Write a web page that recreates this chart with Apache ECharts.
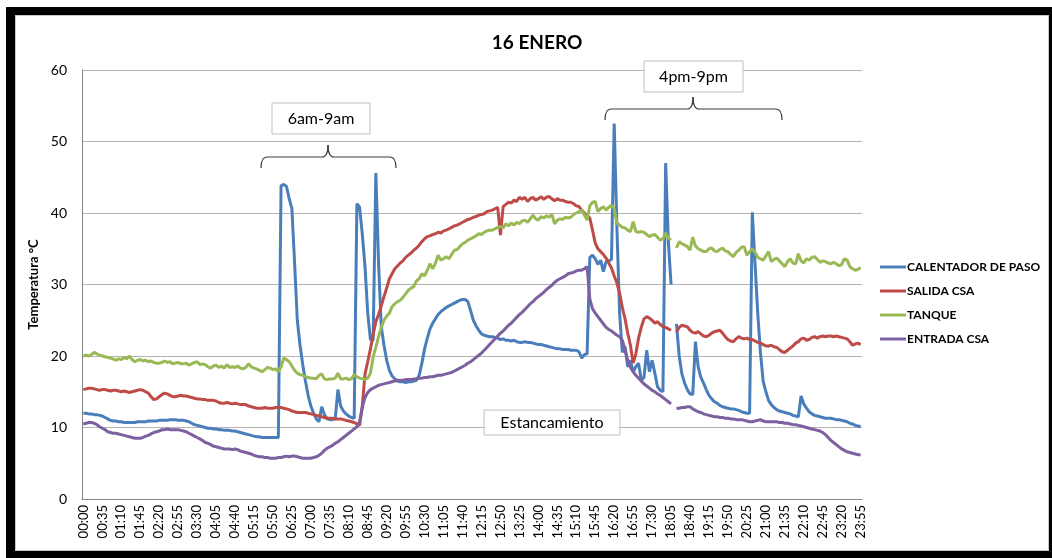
<!DOCTYPE html>
<html>
<head>
<meta charset="utf-8">
<title>16 ENERO</title>
<script src="https://cdn.jsdelivr.net/npm/echarts@6/dist/echarts.min.js"></script>
<style>
  html, body { margin: 0; padding: 0; background: #ffffff; }
  #wrap { position: relative; width: 1052px; height: 558px; overflow: hidden; }
  #frame { position: absolute; left: 6px; top: 7px; width: 1046px; height: 551px; background: #000; }
  #paper { position: absolute; left: 15px; top: 15px; width: 1032px; height: 534px; background: #fff; border: 1px solid #c8c8c8; }
  #chart { position: absolute; left: 0; top: 0; width: 1052px; height: 558px; }
</style>
</head>
<body>
<div id="wrap">
  <div id="frame"></div>
  <div id="paper"></div>
  <div id="chart"></div>
</div>
<script>
// Readings every 5 minutes, 00:00 .. 23:55 (288 samples per series)
const times = [];
for (let m = 0; m < 24 * 60; m += 5) {
  const hh = String(Math.floor(m / 60)).padStart(2, '0');
  const mm = String(m % 60).padStart(2, '0');
  times.push(hh + ':' + mm);
}

const seriesNames = ['CALENTADOR DE PASO', 'SALIDA CSA', 'TANQUE', 'ENTRADA CSA'];

// CALENTADOR DE PASO (°C), one row per hour
const calentador = [
  12.0, 12.0, 11.9, 11.9, 11.8, 11.8, 11.7, 11.6, 11.4, 11.2, 11.0, 10.9,
  10.9, 10.8, 10.8, 10.7, 10.7, 10.7, 10.7, 10.7, 10.8, 10.8, 10.8, 10.8,
  10.9, 10.9, 10.9, 10.9, 11.0, 11.0, 11.0, 11.0, 11.1, 11.1, 11.1, 11.0,
  11.0, 11.0, 10.9, 10.8, 10.6, 10.4, 10.3, 10.2, 10.1, 10.0, 9.9, 9.9,
  9.8, 9.8, 9.7, 9.7, 9.6, 9.6, 9.6, 9.5, 9.5, 9.4, 9.3, 9.2,
  9.1, 9.0, 8.9, 8.8, 8.7, 8.7, 8.6, 8.6, 8.6, 8.6, 8.6, 8.6,
  8.6, 43.8, 44.0, 43.7, 42.0, 40.6, 33.0, 25.0, 21.5, 18.8, 16.5, 14.5,
  13.0, 12.0, 11.2, 10.8, 12.9, 11.8, 11.2, 11.1, 11.1, 11.2, 15.3, 13.0,
  12.3, 11.9, 11.6, 11.4, 11.3, 41.3, 40.8, 37.0, 32.5, 26.0, 22.3, 22.2,
  45.6, 33.0, 24.1, 21.5, 19.4, 18.0, 17.2, 16.8, 16.5, 16.4, 16.4, 16.3,
  16.4, 16.4, 16.5, 16.6, 17.3, 19.0, 21.0, 22.5, 23.8, 24.6, 25.2, 25.8,
  26.2, 26.5, 26.8, 27.0, 27.2, 27.4, 27.6, 27.8, 27.9, 27.9, 27.6, 26.3,
  25.0, 24.2, 23.6, 23.1, 22.9, 22.8, 22.7, 22.7, 22.6, 22.5, 22.3, 22.4,
  22.2, 22.2, 22.1, 22.2, 22.0, 21.9, 21.9, 22.0, 21.9, 21.9, 21.8, 21.7,
  21.6, 21.6, 21.5, 21.4, 21.3, 21.2, 21.1, 21.0, 21.0, 20.9, 20.9, 20.9,
  20.8, 20.8, 20.8, 20.6, 19.7, 20.2, 20.3, 33.8, 34.1, 33.6, 32.8, 33.4,
  31.8, 33.2, 33.3, 33.5, 52.5, 38.0, 26.0, 20.5, 21.3, 18.5, 19.4, 17.8,
  18.5, 19.0, 16.6, 17.0, 20.8, 17.8, 19.4, 17.6, 15.7, 15.2, 15.0, 47.0,
  36.0, 30.0, null, 24.5, 20.0, 17.5, 16.2, 15.3, 14.7, 14.6, 22.0, 18.5,
  17.0, 16.2, 15.3, 14.5, 14.0, 13.6, 13.4, 13.1, 12.9, 12.8, 12.7, 12.6,
  12.6, 12.5, 12.4, 12.2, 12.1, 12.0, 12.0, 40.1, 33.0, 26.0, 20.5, 16.5,
  15.0, 13.8, 13.2, 12.8, 12.5, 12.3, 12.2, 12.1, 12.0, 11.9, 11.7, 11.6,
  11.5, 14.4, 13.3, 12.7, 12.2, 11.9, 11.7, 11.6, 11.5, 11.4, 11.3, 11.3,
  11.3, 11.2, 11.1, 11.1, 11.0, 10.9, 10.8, 10.6, 10.5, 10.3, 10.2, 10.1
];

// SALIDA CSA (°C)
const salidaCSA = [
  15.3, 15.4, 15.5, 15.5, 15.4, 15.3, 15.2, 15.3, 15.3, 15.2, 15.1, 15.2,
  15.2, 15.1, 15.0, 15.1, 15.0, 14.9, 15.0, 15.1, 15.2, 15.3, 15.2, 15.0,
  14.8, 14.3, 13.9, 14.0, 14.3, 14.6, 14.8, 14.7, 14.5, 14.3, 14.3, 14.4,
  14.5, 14.4, 14.4, 14.3, 14.2, 14.1, 14.0, 14.0, 13.9, 13.9, 13.8, 13.8,
  13.8, 13.7, 13.5, 13.4, 13.4, 13.5, 13.4, 13.3, 13.4, 13.3, 13.2, 13.2,
  13.2, 13.0, 12.9, 12.8, 12.7, 12.7, 12.7, 12.8, 12.7, 12.7, 12.7, 12.8,
  12.8, 12.8, 12.7, 12.6, 12.5, 12.3, 12.2, 12.1, 12.1, 12.1, 12.1, 12.0,
  11.9, 11.8, 11.7, 11.6, 11.5, 11.4, 11.3, 11.3, 11.3, 11.2, 11.2, 11.2,
  11.1, 11.0, 10.9, 10.8, 10.7, 10.5, 10.3, 13.0, 17.5, 19.2, 21.0, 23.0,
  24.8, 25.8, 27.0, 28.3, 29.5, 30.8, 31.5, 32.2, 32.6, 33.0, 33.3, 33.8,
  34.1, 34.4, 34.8, 35.1, 35.5, 36.0, 36.4, 36.7, 36.8, 37.0, 37.1, 37.3,
  37.2, 37.5, 37.6, 37.8, 38.0, 38.2, 38.3, 38.5, 38.7, 38.9, 39.1, 39.2,
  39.4, 39.5, 39.7, 39.8, 39.9, 40.2, 40.3, 40.4, 40.6, 40.8, 36.9, 40.9,
  41.2, 41.5, 41.4, 41.8, 41.6, 42.2, 41.9, 42.2, 41.6, 42.0, 42.2, 41.8,
  42.0, 42.3, 41.9, 42.2, 42.3, 42.0, 41.7, 42.0, 41.8, 41.8, 41.6, 41.5,
  41.5, 41.3, 41.0, 40.9, 40.4, 40.0, 39.6, 39.3, 37.6, 35.8, 35.0, 34.6,
  34.2, 33.7, 33.0, 32.3, 31.2, 30.2, 28.8, 26.8, 25.2, 23.2, 21.5, 19.0,
  20.3, 22.5, 24.0, 25.2, 25.5, 25.3, 25.0, 24.6, 24.8, 24.4, 24.1, 24.0,
  23.8, 23.6, null, 23.3, 24.0, 24.3, 24.2, 24.1, 23.6, 23.3, 23.2, 23.4,
  23.1, 22.8, 22.7, 22.9, 23.2, 23.4, 23.5, 23.6, 23.2, 22.7, 22.3, 22.1,
  22.0, 22.4, 22.7, 22.5, 22.4, 22.5, 22.3, 22.3, 22.1, 21.9, 21.8, 21.6,
  21.4, 21.4, 21.5, 21.3, 21.2, 20.9, 20.6, 20.5, 20.8, 21.1, 21.4, 21.8,
  22.0, 22.4, 22.5, 22.2, 22.3, 22.6, 22.7, 22.5, 22.7, 22.8, 22.7, 22.8,
  22.8, 22.7, 22.8, 22.7, 22.6, 22.5, 22.4, 22.0, 21.5, 21.7, 21.8, 21.6
];

// TANQUE (°C)
const tanque = [
  20.0, 20.1, 20.0, 20.2, 20.5, 20.3, 20.1, 20.0, 19.9, 19.8, 19.7, 19.6,
  19.4, 19.6, 19.5, 19.8, 19.6, 20.0, 19.5, 19.2, 19.4, 19.5, 19.3, 19.4,
  19.2, 19.3, 19.1, 19.0, 19.0, 19.1, 19.3, 19.1, 19.2, 18.9, 19.0, 19.1,
  18.9, 18.9, 19.0, 18.7, 18.9, 19.1, 19.2, 18.8, 18.9, 18.8, 18.5, 18.3,
  18.6, 18.7, 18.4, 18.6, 18.3, 18.8, 18.4, 18.5, 18.4, 18.6, 18.3, 18.2,
  18.4, 18.9, 18.5, 18.3, 18.2, 18.0, 17.8, 18.1, 18.4, 18.3, 18.1, 18.2,
  17.8, 18.5, 19.7, 19.5, 19.2, 18.6, 18.0, 17.6, 17.4, 17.3, 17.1, 17.0,
  16.9, 16.9, 16.8, 17.3, 17.5, 16.8, 16.7, 16.8, 16.8, 16.9, 17.6, 16.8,
  16.8, 16.9, 16.7, 16.8, 17.4, 17.1, 16.9, 16.8, 16.7, 16.9, 17.6, 19.9,
  21.2, 22.7, 24.0, 25.0, 25.6, 26.0, 26.9, 27.3, 27.6, 27.8, 28.2, 28.7,
  29.2, 29.5, 29.7, 30.5, 30.8, 31.5, 31.2, 32.0, 32.9, 32.2, 33.0, 34.1,
  33.4, 33.6, 33.9, 33.6, 34.2, 34.8, 34.9, 35.3, 35.7, 35.9, 36.2, 36.4,
  36.6, 36.8, 37.1, 37.0, 37.3, 37.5, 37.6, 37.6, 37.8, 38.0, 38.1, 37.9,
  38.5, 38.2, 38.6, 38.3, 38.7, 38.5, 38.9, 39.0, 38.7, 39.2, 39.7, 39.2,
  39.0, 39.5, 39.3, 39.6, 39.4, 39.8, 38.5, 39.0, 39.2, 39.1, 39.4, 39.3,
  39.4, 39.8, 40.0, 40.2, 40.4, 39.7, 39.0, 41.0, 41.5, 41.6, 40.2, 40.6,
  40.9, 40.4, 40.8, 41.1, 40.6, 38.6, 38.3, 38.0, 37.9, 37.6, 37.4, 38.8,
  37.4, 37.3, 37.4, 37.3, 37.0, 36.7, 36.9, 37.0, 36.6, 36.2, 36.4, 37.2,
  36.5, 36.2, null, 35.1, 36.0, 35.7, 35.5, 35.3, 34.8, 36.6, 35.4, 35.0,
  34.8, 34.6, 34.6, 35.0, 35.1, 34.7, 34.6, 34.9, 35.1, 34.7, 34.6, 34.2,
  33.9, 34.5, 34.8, 35.2, 35.3, 34.1, 34.6, 35.0, 34.5, 33.8, 33.6, 33.4,
  34.0, 34.6, 33.2, 33.5, 33.7, 33.3, 32.9, 32.5, 33.2, 33.6, 33.0, 32.9,
  34.3, 33.3, 33.0, 33.6, 33.4, 33.8, 33.9, 33.5, 33.1, 33.3, 33.2, 33.0,
  32.9, 33.1, 32.9, 32.6, 32.8, 33.6, 33.4, 32.5, 32.2, 32.0, 32.1, 32.4
];

// ENTRADA CSA (°C)
const entradaCSA = [
  10.5, 10.6, 10.7, 10.7, 10.6, 10.4, 10.1, 9.9, 9.7, 9.4, 9.3, 9.2,
  9.2, 9.1, 9.0, 8.9, 8.8, 8.7, 8.6, 8.5, 8.5, 8.5, 8.6, 8.8,
  8.9, 9.1, 9.3, 9.4, 9.5, 9.7, 9.7, 9.8, 9.7, 9.7, 9.7, 9.7,
  9.6, 9.5, 9.4, 9.2, 9.0, 8.8, 8.6, 8.4, 8.2, 7.9, 7.8, 7.6,
  7.4, 7.3, 7.2, 7.1, 7.0, 7.0, 7.0, 6.9, 7.0, 6.9, 6.7, 6.6,
  6.5, 6.4, 6.3, 6.1, 6.0, 5.9, 5.9, 5.8, 5.8, 5.7, 5.7, 5.7,
  5.8, 5.8, 5.9, 6.0, 5.9, 6.0, 6.0, 5.9, 5.8, 5.7, 5.7, 5.7,
  5.7, 5.8, 5.9, 6.1, 6.4, 6.8, 7.1, 7.3, 7.5, 7.8, 8.0, 8.3,
  8.6, 8.9, 9.2, 9.5, 9.8, 10.1, 10.8, 12.8, 14.2, 14.9, 15.3, 15.5,
  15.7, 15.9, 16.0, 16.1, 16.2, 16.3, 16.4, 16.5, 16.6, 16.6, 16.6, 16.7,
  16.7, 16.7, 16.8, 16.8, 16.9, 16.9, 17.0, 17.0, 17.1, 17.1, 17.2, 17.3,
  17.3, 17.4, 17.5, 17.6, 17.7, 17.9, 18.1, 18.3, 18.5, 18.7, 19.0, 19.2,
  19.5, 19.8, 20.1, 20.4, 20.8, 21.2, 21.6, 22.0, 22.4, 22.8, 23.2, 23.5,
  23.9, 24.3, 24.6, 25.0, 25.4, 25.8, 26.1, 26.5, 26.9, 27.3, 27.6, 28.0,
  28.3, 28.6, 28.9, 29.3, 29.6, 29.9, 30.3, 30.6, 30.8, 31.0, 31.2, 31.5,
  31.6, 31.7, 31.9, 32.0, 32.0, 32.2, 32.5, 28.0, 26.6, 26.0, 25.5, 25.0,
  24.5, 24.0, 23.7, 23.5, 23.2, 22.9, 22.7, 22.2, 20.9, 19.4, 18.4, 17.8,
  17.3, 16.9, 16.5, 16.1, 15.8, 15.5, 15.2, 15.0, 14.7, 14.5, 14.2, 13.9,
  13.6, 13.3, null, 12.7, 12.7, 12.8, 12.8, 12.9, 12.9, 12.6, 12.4, 12.2,
  12.1, 11.9, 11.8, 11.7, 11.6, 11.5, 11.5, 11.4, 11.4, 11.3, 11.3, 11.2,
  11.2, 11.1, 11.1, 11.1, 11.0, 10.9, 10.8, 10.8, 10.9, 11.0, 11.1, 10.9,
  10.8, 10.8, 10.8, 10.8, 10.8, 10.7, 10.7, 10.6, 10.6, 10.5, 10.4, 10.4,
  10.3, 10.2, 10.1, 10.0, 9.9, 9.8, 9.7, 9.6, 9.5, 9.3, 9.0, 8.6,
  8.2, 7.9, 7.6, 7.3, 7.0, 6.8, 6.6, 6.5, 6.4, 6.3, 6.2, 6.2
];

const yTicks = { min: 0, max: 60, interval: 10 };
const colors = ['#4a7ebb', '#be4b48', '#98b954', '#7d60a0'];
const seriesData = [calentador, salidaCSA, tanque, entradaCSA];

const uiFont = 'Lato, "Liberation Sans", Arial, sans-serif';

// Callout box with centred text
function callout(x, y, w, h, label) {
  return [
    { type: 'rect', z: 10, shape: { x: x, y: y, width: w, height: h },
      style: { fill: '#ffffff', stroke: '#bfbfbf', lineWidth: 1 } },
    { type: 'text', z: 11,
      style: { text: label, x: x + w / 2, y: y + h / 2, textAlign: 'center', textVerticalAlign: 'middle',
               font: '16px ' + uiFont, fill: '#000000' } }
  ];
}

// Horizontal curly brace: ends hook downward, small peak in the middle
function brace(x1, x2, xm, yLine, yEnd, yTip) {
  const r = 6;
  const st = { stroke: '#3a3a3a', lineWidth: 1.2, fill: null };
  const curve = (ax, ay, bx, by, cx, cy) => ({
    type: 'bezierCurve', z: 10, style: st,
    shape: { x1: ax, y1: ay, x2: bx, y2: by, cpx1: cx, cpy1: cy }
  });
  return [
    curve(x1, yEnd, x1 + r, yLine, x1, yLine),
    { type: 'line', z: 10, style: st, shape: { x1: x1 + r, y1: yLine, x2: xm - r, y2: yLine } },
    curve(xm - r, yLine, xm, yTip, xm, yLine),
    curve(xm, yTip, xm + r, yLine, xm, yLine),
    { type: 'line', z: 10, style: st, shape: { x1: xm + r, y1: yLine, x2: x2 - r, y2: yLine } },
    curve(x2 - r, yLine, x2, yEnd, x2, yLine)
  ];
}

const chart = echarts.init(document.getElementById('chart'), null, { renderer: 'canvas' });

chart.setOption({
  backgroundColor: 'transparent',
  animation: false,
  color: colors,
  title: {
    text: '16 ENERO',
    left: 532,
    top: 28,
    textAlign: 'center',
    textStyle: { fontFamily: uiFont, fontWeight: 'bold', fontSize: 19, color: '#000000' }
  },
  legend: {
    orient: 'vertical',
    left: 875,
    top: 255,
    icon: 'rect',
    itemWidth: 26,
    itemHeight: 3,
    itemGap: 10,
    data: seriesNames,
    textStyle: { fontFamily: uiFont, fontWeight: 'bold', fontSize: 12, color: '#000000', lineHeight: 14, padding: [0, 0, 0, -4] }
  },
  grid: { left: 82, right: 190, top: 70, bottom: 59 },
  xAxis: {
    type: 'category',
    data: times,
    boundaryGap: true,
    axisLine: { lineStyle: { color: '#868686', width: 1 } },
    axisTick: { show: false },
    axisLabel: { interval: 6, rotate: 90, margin: 6, color: '#000000', fontFamily: uiFont, fontSize: 13 },
    splitLine: { show: false }
  },
  yAxis: {
    type: 'value',
    min: yTicks.min,
    max: yTicks.max,
    interval: yTicks.interval,
    name: 'Temperatura °C',
    nameLocation: 'middle',
    nameGap: 29,
    nameRotate: 90,
    nameTextStyle: { fontFamily: uiFont, fontWeight: 'bold', fontSize: 13, color: '#000000' },
    axisLine: { show: true, lineStyle: { color: '#868686', width: 1 } },
    axisTick: { show: false },
    axisLabel: { margin: 15, color: '#000000', fontFamily: uiFont, fontSize: 14 },
    splitLine: { lineStyle: { color: '#b4b4b4', width: 1 } }
  },
  series: seriesNames.map((name, k) => ({
    name: name,
    type: 'line',
    data: seriesData[k],
    symbol: 'none',
    smooth: false,
    connectNulls: false,
    lineStyle: { width: 3, color: colors[k] },
    itemStyle: { color: colors[k] },
    z: 2 + k
  })),
  graphic: [].concat(
    brace(261, 396, 328, 157, 168, 145),
    callout(272, 103, 98, 31, '6am-9am'),
    brace(605, 782, 693, 109, 120, 97),
    callout(644, 61, 99, 31, '4pm-9pm'),
    callout(484, 410, 136, 25, 'Estancamiento')
  )
});
</script>
</body>
</html>
